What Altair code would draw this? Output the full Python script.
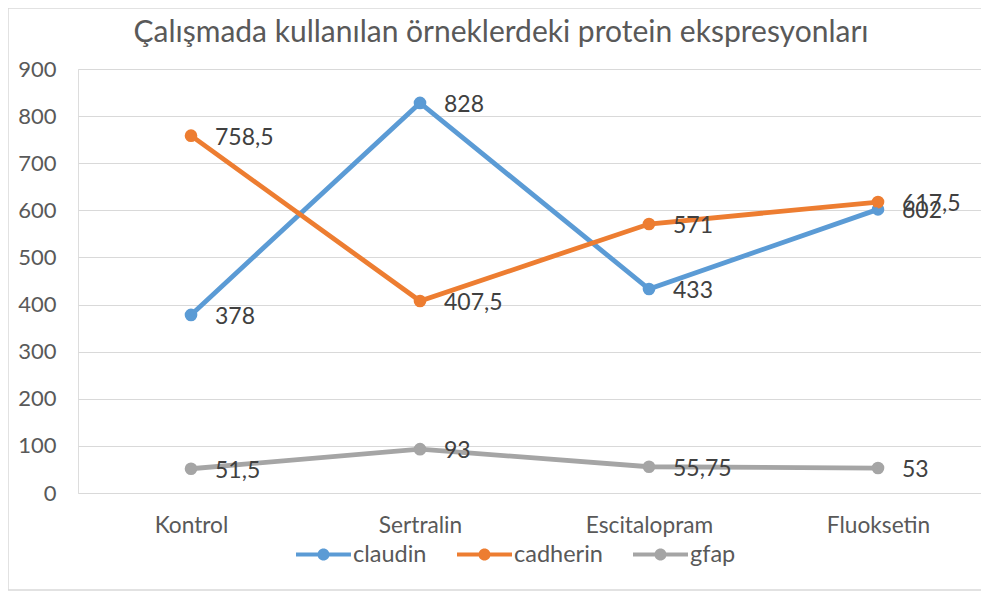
import json
import altair as alt
import pandas as pd

categories = ["Kontrol", "Sertralin", "Escitalopram", "Fluoksetin"]
series_names = ["claudin", "cadherin", "gfap"]
claudin = [378, 828, 433, 602]
cadherin = [758.5, 407.5, 571, 617.5]
gfap = [51.5, 93, 55.75, 53]
colors = ["#5B9BD5", "#ED7D31", "#A5A5A5"]
y_ticks = [0, 100, 200, 300, 400, 500, 600, 700, 800, 900]
title_text = "Çalışmada kullanılan örneklerdeki protein ekspresyonları"

def fmt(v):
    s = ("%g" % v)
    return s.replace(".", ",")

rows = []
for name, vals in zip(series_names, [claudin, cadherin, gfap]):
    for i, (c, v) in enumerate(zip(categories, vals)):
        rows.append({"idx": i, "grup": c, "seri": name, "deger": v, "etiket": fmt(v)})
df = pd.DataFrame(rows)

W, H = 903, 424
FONT = "Lato"

legend_path = ("M-1.5,-0.11 H1.5 V0.11 H-1.5 Z "
               "M-0.33,0 A0.33,0.33 0 1,1 0.33,0 A0.33,0.33 0 1,1 -0.33,0 Z")

label_expr = json.dumps(categories) + "[datum.value]"

x_enc = alt.X("idx:Q",
              scale=alt.Scale(domain=[-0.4935, 3.4498], nice=False, zero=False),
              axis=alt.Axis(title=None, labelAngle=0, ticks=False, grid=False,
                            domain=False, values=list(range(len(categories))),
                            labelExpr=label_expr,
                            labelPadding=21, labelFontSize=22.7, labelColor="#595959",
                            labelFont=FONT))
y_enc = alt.Y("deger:Q",
              scale=alt.Scale(domain=[0, 900], nice=False),
              axis=alt.Axis(title=None, values=y_ticks, ticks=False, domain=False,
                            grid=True, gridColor="#d9d9d9", gridWidth=1,
                            labelPadding=22, labelFontSize=22, labelColor="#595959",
                            labelFont=FONT))
color_scale = alt.Scale(domain=series_names, range=colors)

leg = alt.Legend(title=None, orient="none", direction="horizontal",
                 legendX=227, legendY=467,
                 symbolType=legend_path, symbolSize=1344,
                 symbolStrokeWidth=0, symbolOpacity=1,
                 labelFontSize=23.5, labelColor="#595959",
                 labelFont=FONT, labelOffset=11,
                 columnPadding=30, symbolLimit=0)

base = alt.Chart(df)

lines = base.mark_line(strokeWidth=4.8).encode(
    x=x_enc, y=y_enc,
    color=alt.Color("seri:N", scale=color_scale, legend=leg),
)

points = base.mark_circle(size=160, opacity=1).encode(
    x=x_enc, y=y_enc,
    color=alt.Color("seri:N", scale=color_scale, legend=leg),
)

labels = base.mark_text(align="left", baseline="middle", dx=24, dy=2,
                        fontSize=23, color="#404040", font=FONT).encode(
    x=x_enc, y=y_enc, text="etiket:N",
)

one = alt.Data(values=[{"t": title_text}])

border = alt.Chart(one).mark_rect(
    filled=False, stroke="#d9d9d9", strokeWidth=1.5
).encode(
    x=alt.value(-70), x2=alt.value(930), y=alt.value(-61), y2=alt.value(521)
)

title = alt.Chart(one).mark_text(
    fontSize=30, color="#595959", font=FONT, align="center", baseline="middle"
).encode(
    x=alt.value(423), y=alt.value(-36), text="t:N"
)

chart = alt.layer(border, title, points, lines, labels).properties(
    width=W, height=H,
    autosize=alt.AutoSizeParams(type="none"),
    padding={"left": 70, "top": 61, "right": 0, "bottom": 98},
).configure_view(stroke=None).configure(background="white")

chart.save("out.html", embed_options={"renderer": "svg", "actions": False})
